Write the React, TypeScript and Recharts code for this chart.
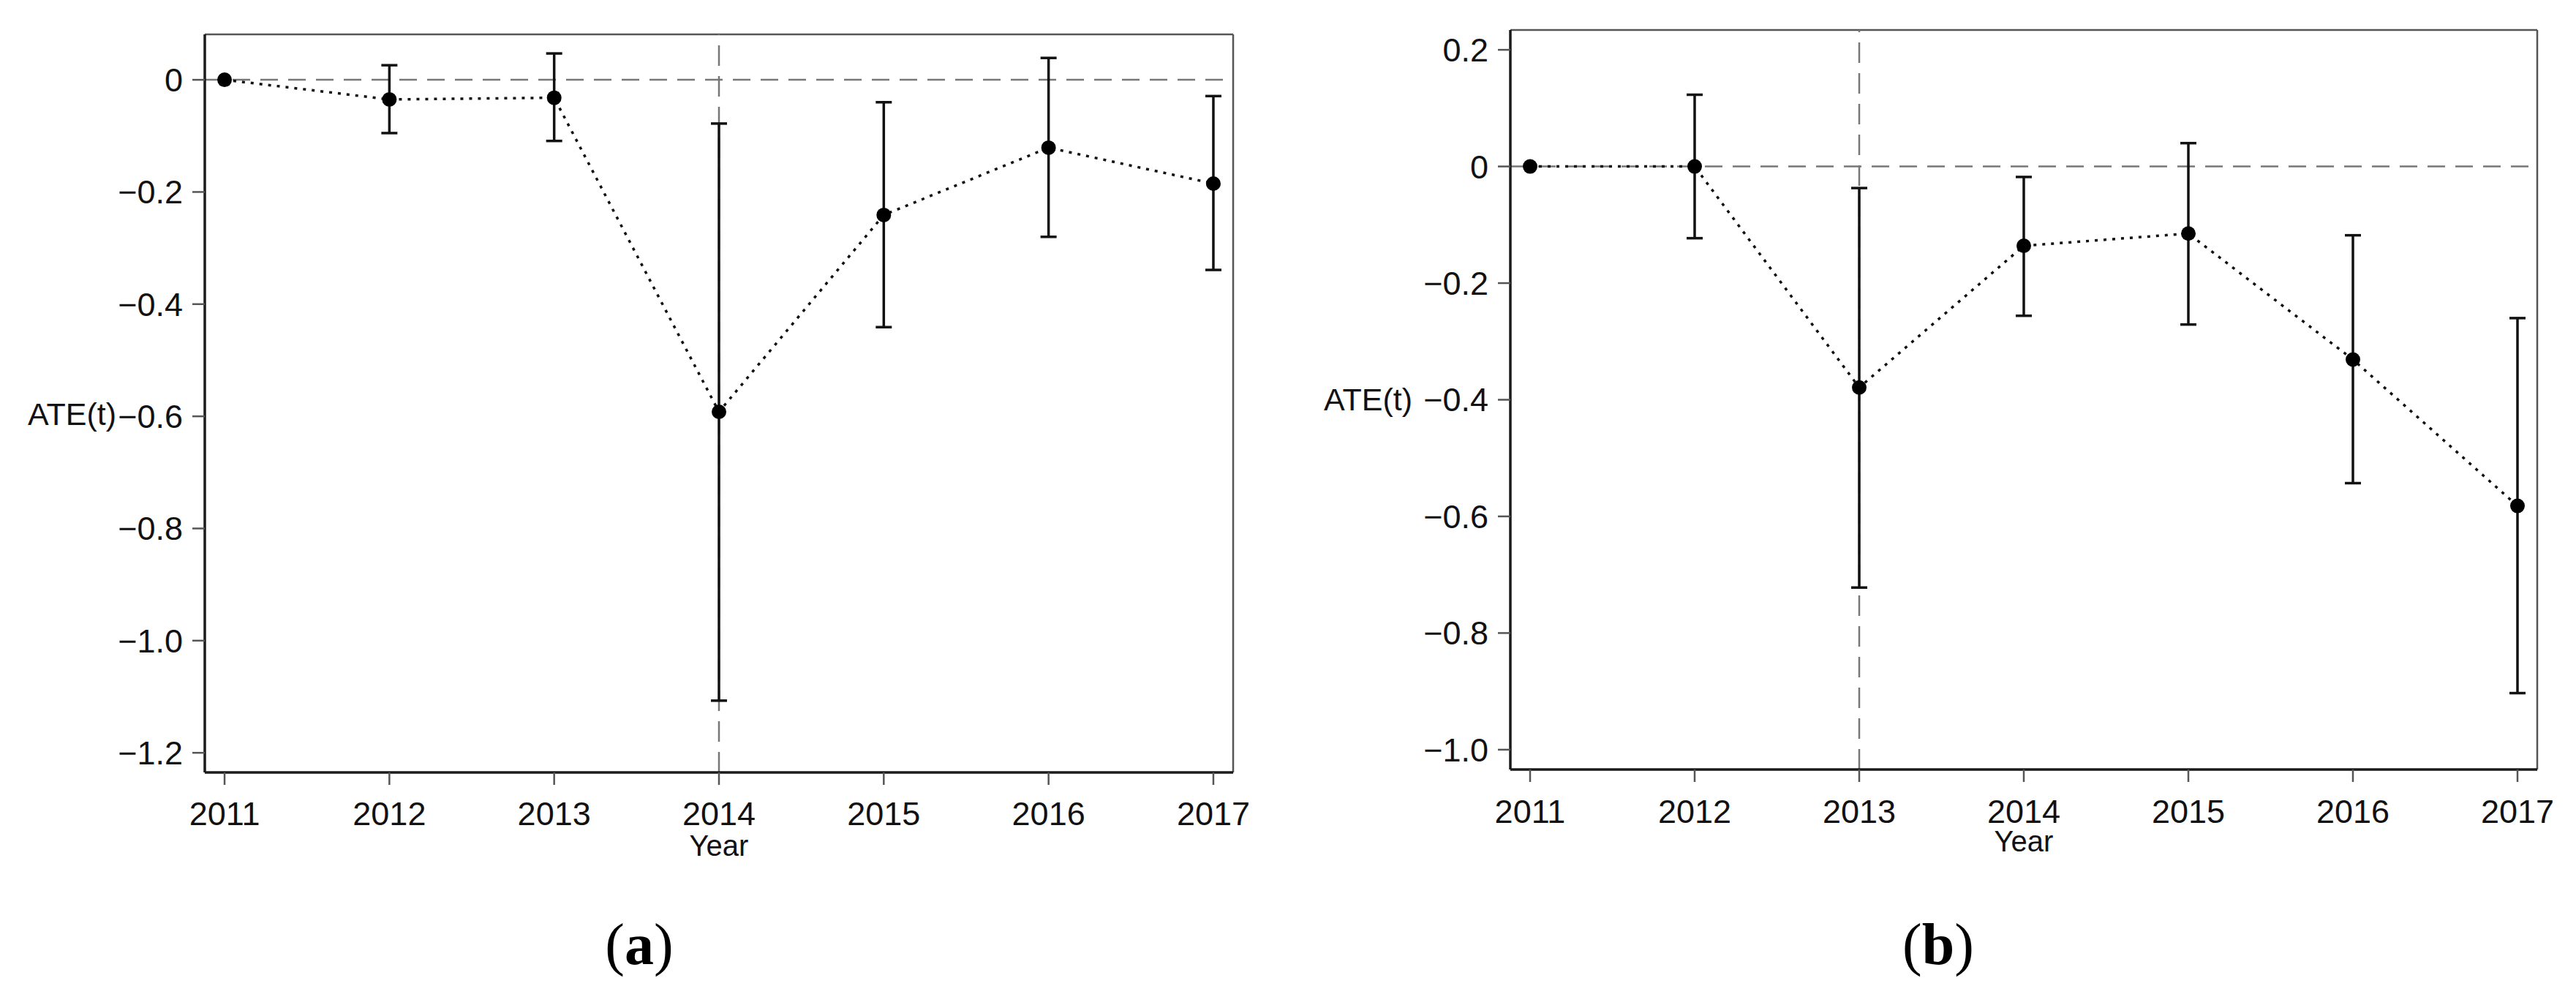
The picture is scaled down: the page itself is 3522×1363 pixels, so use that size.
import { ErrorBar, Line, LineChart, ReferenceLine, XAxis, YAxis } from "recharts";

const years = [2011, 2012, 2013, 2014, 2015, 2016, 2017];

// panel (a)
const ateA = [0, -0.035, -0.032, -0.592, -0.241, -0.121, -0.185];
const lowA = [null, -0.095, -0.109, -1.107, -0.441, -0.28, -0.339];
const highA = [null, 0.026, 0.047, -0.078, -0.04, 0.039, -0.029];
const ticksA = [0, -0.2, -0.4, -0.6, -0.8, -1.0, -1.2];

// panel (b)
const ateB = [0, 0, -0.379, -0.136, -0.115, -0.331, -0.582];
const lowB = [null, -0.123, -0.722, -0.256, -0.271, -0.543, -0.903];
const highB = [null, 0.123, -0.037, -0.018, 0.04, -0.118, -0.26];
const ticksB = [0.2, 0, -0.2, -0.4, -0.6, -0.8, -1.0];

const build = (ate: number[], low: (number | null)[], high: (number | null)[]) =>
  years.map((year, i) => ({
    year,
    ate: ate[i],
    err: low[i] == null ? null : [ate[i] - (low[i] as number), (high[i] as number) - ate[i]],
  }));

const dataA = build(ateA, lowA, highA);
const dataB = build(ateB, lowB, highB);

const FONT = "'Liberation Sans', Arial, sans-serif";
const xDomain: [number, number] = [2010.88, 2017.12];

const fmt = (v: number) => (v === 0 ? "0" : (v < 0 ? "\u2212" : "") + Math.abs(v).toFixed(1));

type PanelProps = {
  data: ReturnType<typeof build>;
  yDomain: [number, number];
  yTicks: number[];
  eventYear: number;
  width: number;
  margin: { top: number; right: number; bottom: number; left: number };
  yAxisWidth: number;
  labelOffset: number;
  labelDy: number;
  xTickMargin: number;
  yearOffset: number;
};

function Panel(p: PanelProps) {
  return (
    <LineChart width={p.width} height={1200} data={p.data} margin={p.margin} style={{ fontFamily: FONT }}>
      <XAxis
        dataKey="year"
        type="number"
        domain={xDomain}
        ticks={years}
        allowDataOverflow
        tickSize={17}
        tickMargin={p.xTickMargin}
        height={120}
        axisLine={{ stroke: "#1a1a1a", strokeWidth: 3.5 }}
        tickLine={{ stroke: "#555", strokeWidth: 2.5 }}
        tick={{ fontSize: 45, fill: "#111", fontFamily: FONT }}
        label={{ value: "Year", position: "insideBottom", offset: p.yearOffset, fontSize: 40, fill: "#111", fontFamily: FONT }}
      />
      <YAxis
        type="number"
        domain={p.yDomain}
        ticks={p.yTicks}
        allowDataOverflow
        width={p.yAxisWidth}
        tickSize={17}
        tickMargin={13}
        tickFormatter={fmt}
        axisLine={{ stroke: "#1a1a1a", strokeWidth: 3.5 }}
        tickLine={{ stroke: "#555", strokeWidth: 2.5 }}
        tick={{ fontSize: 45, fill: "#111", fontFamily: FONT }}
        label={{
          value: "ATE(t)",
          position: "insideLeft",
          offset: p.labelOffset,
          dy: p.labelDy,
          fontSize: 43,
          fill: "#111",
          fontFamily: FONT,
        }}
      />
      {/* frame: top and right edges */}
      <ReferenceLine y={p.yDomain[1]} stroke="#555" strokeWidth={2.5} ifOverflow="visible" />
      <ReferenceLine x={xDomain[1]} stroke="#555" strokeWidth={2.5} ifOverflow="visible" />
      <ReferenceLine y={0} stroke="#777" strokeWidth={2.5} strokeDasharray="24 14" />
      <ReferenceLine x={p.eventYear} stroke="#777" strokeWidth={2.5} strokeDasharray="28 14" />
      <Line
        dataKey="ate"
        stroke="#111"
        strokeWidth={3.5}
        strokeDasharray="4 8"
        dot={{ r: 10, fill: "#000", stroke: "none", strokeWidth: 0 }}
        activeDot={false}
        isAnimationActive={false}
      >
        <ErrorBar dataKey="err" direction="y" width={11} strokeWidth={3.5} stroke="#111" />
      </Line>
    </LineChart>
  );
}

export default function App() {
  return (
    <div style={{ position: "absolute", left: 0, top: 0, width: 3522, height: 1363, background: "#fff" }}>
      <div style={{ position: "absolute", left: 0, top: 0 }}>
        <Panel
          data={dataA}
          yDomain={[-1.235, 0.081]}
          yTicks={ticksA}
          eventYear={2014}
          width={1760}
          margin={{ top: 47, right: 74, bottom: 24, left: 20 }}
          yAxisWidth={260}
          labelOffset={18}
          labelDy={14}
          xTickMargin={23}
          yearOffset={6}
        />
      </div>
      <div style={{ position: "absolute", left: 1760, top: 0 }}>
        <Panel
          data={dataB}
          yDomain={[-1.034, 0.234]}
          yTicks={ticksB}
          eventYear={2013}
          width={1762}
          margin={{ top: 41, right: 53, bottom: 28, left: 20 }}
          yAxisWidth={285}
          labelOffset={30}
          labelDy={-1}
          xTickMargin={24}
          yearOffset={8}
        />
      </div>
      <svg width={3522} height={1363} style={{ position: "absolute", left: 0, top: 0, pointerEvents: "none" }}>
        <text x={874} y={1318} textAnchor="middle" fontSize={80} fontFamily="'Liberation Serif', 'Times New Roman', serif" fill="#000">
          (<tspan fontWeight="bold">a</tspan>)
        </text>
        <text x={2650} y={1318} textAnchor="middle" fontSize={80} fontFamily="'Liberation Serif', 'Times New Roman', serif" fill="#000">
          (<tspan fontWeight="bold">b</tspan>)
        </text>
      </svg>
    </div>
  );
}
